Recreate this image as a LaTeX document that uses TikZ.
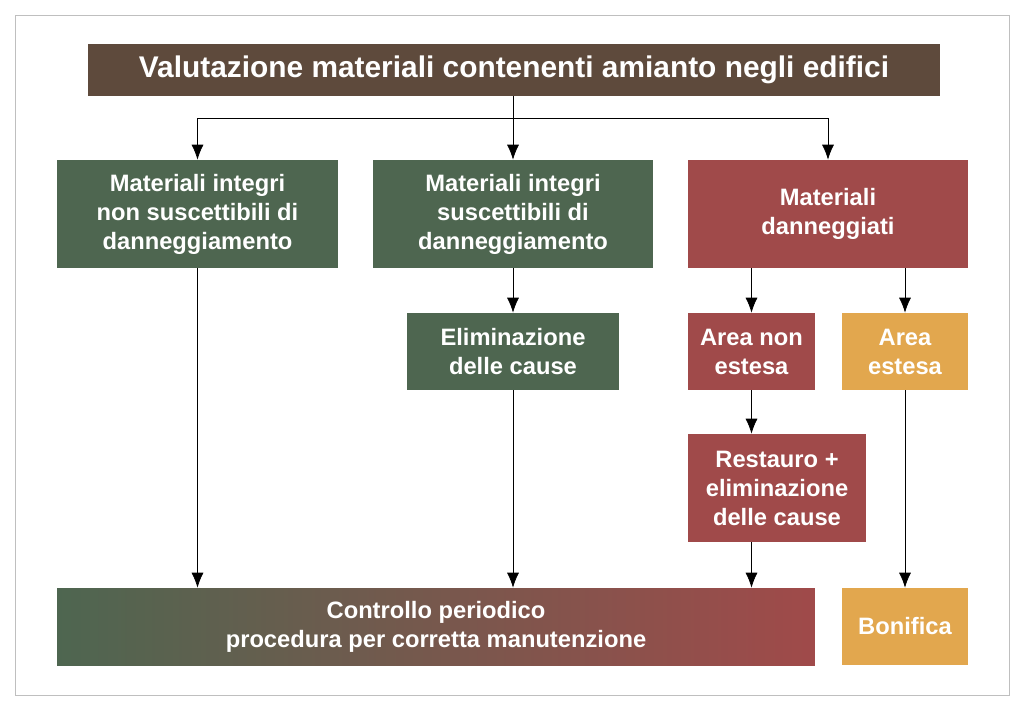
\documentclass[tikz,border=0pt]{standalone}
\usepackage{fontspec}
\setmainfont{Liberation Sans}
\usetikzlibrary{arrows.meta,positioning}
\definecolor{titlebrown}{HTML}{5E4A3C}
\definecolor{boxgreen}{HTML}{4E6650}
\definecolor{boxred}{HTML}{A04A4A}
\definecolor{boxorange}{HTML}{E2A74E}
\tikzset{
  box/.style={fill=#1, text=white, font=\bfseries\fontsize{13.5}{16.5}\selectfont, align=center, inner sep=0pt},
  flow/.style={-{Latex[length=3mm,width=2.4mm]}, thin}
}
\begin{document}
\begin{tikzpicture}[x=0.02cm,y=-0.02cm]
	% Frame
	\useasboundingbox (0,0) rectangle (1024,704);
	\draw[gray!50] (15,15) rectangle (1009,695);

	% Title
	\node[box=titlebrown, minimum width=17.04cm, minimum height=1.04cm,
	  font=\bfseries\fontsize{17}{20}\selectfont] (title) at (514,70) {Valutazione materiali contenenti amianto negli edifici};

	% Top row
	\node[box=boxgreen, minimum width=5.62cm, minimum height=2.16cm] (intnon) at (197.5,214) {Materiali integri\\non suscettibili di\\danneggiamento};
	\node[box=boxgreen, minimum width=5.6cm, minimum height=2.16cm] (intsus) at (513,214) {Materiali integri\\suscettibili di\\danneggiamento};
	\node[box=boxred, minimum width=5.6cm, minimum height=2.16cm] (dann) at (828,214) {Materiali\\danneggiati};

	% Middle row
	\node[box=boxgreen, minimum width=4.24cm, minimum height=1.54cm] (elim) at (513,351.5) {Eliminazione\\delle cause};
	\node[box=boxred, minimum width=2.54cm, minimum height=1.54cm] (areanon) at (751.5,351.5) {Area non\\estesa};
	\node[box=boxorange, minimum width=2.52cm, minimum height=1.54cm] (areaest) at (905,351.5) {Area\\estesa};
	\node[box=boxred, minimum width=3.56cm, minimum height=2.16cm] (restauro) at (777,488) {Restauro +\\eliminazione\\delle cause};

	% Bottom row
	\node[box=boxgreen, left color=boxgreen, right color=boxred, minimum width=15.16cm, minimum height=1.54cm] (controllo) at (436,626.5) {Controllo periodico\\procedura per corretta manutenzione};
	\node[box=boxorange, minimum width=2.52cm, minimum height=1.54cm] (bonifica) at (905,626.5) {Bonifica};

	% Connectors
	\coordinate (split) at (513,118);
	\draw (title.south -| split) -- (split);
	\draw[flow] (split) -| (intnon.north);
	\draw[flow] (split) -- (intsus.north);
	\draw[flow] (split) -| (dann.north);
	\draw[flow] (intnon.south) -- (intnon.south |- controllo.north);
	\draw[flow] (intsus.south) -- (elim.north);
	\draw[flow] (elim.south) -- (elim.south |- controllo.north);
	\draw[flow] (dann.south -| areanon) -- (areanon.north);
	\draw[flow] (dann.south -| areaest) -- (areaest.north);
	\draw[flow] (areanon.south) -- (areanon.south |- restauro.north);
	\draw[flow] (restauro.south -| areanon) -- (areanon |- controllo.north);
	\draw[flow] (areaest.south) -- (bonifica.north);
\end{tikzpicture}
\end{document}
